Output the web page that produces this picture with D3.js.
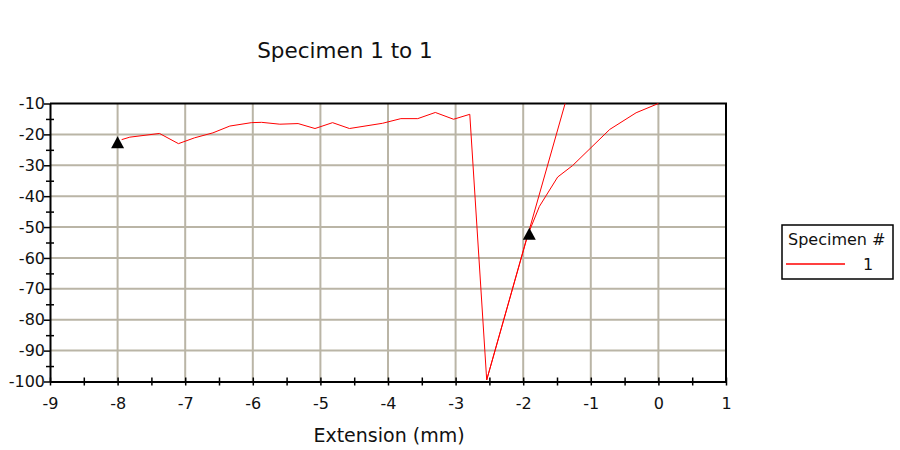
<!DOCTYPE html>
<html>
<head>
<meta charset="utf-8">
<script src="https://cdn.jsdelivr.net/npm/d3@7"></script>
<style>
  body { margin: 0; background: #fff; }
  svg { font-family: "DejaVu Sans", Verdana, sans-serif; }
</style>
</head>
<body>
<svg width="900" height="450"></svg>
<script>
// data
let extension = [-7.94, -7.82, -7.38, -7.1, -6.86, -6.59, -6.34, -6.02, -5.87, -5.6, -5.33, -5.08, -4.82, -4.57, -4.08, -3.81, -3.56, -3.3, -3.03, -2.79, -2.54, -1.94, -1.76, -1.49, -1.27, -0.72, -0.33, 0];
let load = [-21.7, -20.9, -19.7, -23, -21.1, -19.5, -17.3, -16.2, -16.1, -16.7, -16.5, -18.1, -16.2, -18.1, -16.4, -14.9, -14.9, -12.9, -15.1, -13.5, -99.5, -53, -43.3, -33.8, -30.1, -18.4, -13, -10];
let modulusX = [-2.54, -1.38];
let modulusY = [-99.5, -10];
let markerX = [-8, -1.91];
let markerY = [-22.7, -52.3];
let xTicks = [-9, -8, -7, -6, -5, -4, -3, -2, -1, 0, 1];
let yTicks = [-10, -20, -30, -40, -50, -60, -70, -80, -90, -100];

let svg = d3.select('svg');
let pLeft = 50, pRight = 726, pTop = 103.5, pBottom = 381.5;

let xScale = d3.scaleLinear().domain([-9, 1]).range([pLeft, pRight]);
let yScale = d3.scaleLinear().domain([-100, -10]).range([pBottom, pTop]);

// gridlines
svg.append('g').selectAll('line')
  .data(xTicks.slice(1, -1))
  .enter().append('line')
  .attr('x1', d => xScale(d)).attr('x2', d => xScale(d))
  .attr('y1', pTop).attr('y2', pBottom)
  .attr('stroke', '#bab5a6').attr('stroke-width', 2);
svg.append('g').selectAll('line')
  .data(yTicks.slice(1, -1))
  .enter().append('line')
  .attr('x1', pLeft).attr('x2', pRight)
  .attr('y1', d => yScale(d)).attr('y2', d => yScale(d))
  .attr('stroke', '#bab5a6').attr('stroke-width', 2);

// frame top + right
svg.append('path')
  .attr('d', `M${pLeft},${pTop}H${pRight}V${pBottom}`)
  .attr('fill', 'none').attr('stroke', '#000').attr('stroke-width', 2);

// x axis
let minorX = d3.range(-9, 1.01, 0.5);
let xAxis = d3.axisBottom(xScale).tickValues(minorX).tickSize(4).tickSizeOuter(0)
  .tickFormat(d => Number.isInteger(d) ? d : '');
let gx = svg.append('g').attr('transform', `translate(0,${pBottom})`).call(xAxis);
gx.select('.domain').attr('stroke-width', 2);
gx.selectAll('.tick line').attr('y1', -4).attr('stroke-width', 1.5);
gx.selectAll('.tick text').attr('font-size', 16).attr('fill', '#111').attr('dy', '1.3em')
  .attr('font-family', '"DejaVu Sans", Verdana, sans-serif');

// y axis
let minorY = d3.range(-100, -9.9, 5);
let yAxis = d3.axisLeft(yScale).tickValues(minorY).tickSize(4).tickSizeOuter(0).tickPadding(1)
  .tickFormat(d => d % 10 === 0 ? d : '');
let gy = svg.append('g').attr('transform', `translate(${pLeft},0)`).call(yAxis);
gy.select('.domain').attr('stroke-width', 2);
gy.selectAll('.tick line').attr('x2', d => d % 10 === 0 ? -6 : -4).attr('x1', d => d % 10 === 0 ? 0 : 4).attr('stroke-width', 1.5);
gy.selectAll('.tick text').attr('font-size', 16).attr('fill', '#111')
  .attr('font-family', '"DejaVu Sans", Verdana, sans-serif');

// data curve
let line = d3.line().x(d => xScale(d[0])).y(d => yScale(d[1]));
svg.append('path')
  .datum(extension.map((x, i) => [x, load[i]]))
  .attr('d', line)
  .attr('fill', 'none').attr('stroke', '#ff0000').attr('stroke-width', 1);
svg.append('path')
  .datum(modulusX.map((x, i) => [x, modulusY[i]]))
  .attr('d', line)
  .attr('fill', 'none').attr('stroke', '#ff0000').attr('stroke-width', 1);

// markers
svg.selectAll('.marker')
  .data(markerX.map((x, i) => [x, markerY[i]]))
  .enter().append('path')
  .attr('class', 'marker')
  .attr('transform', d => `translate(${xScale(d[0])},${yScale(d[1])})`)
  .attr('d', 'M0,-6.5L6.5,5.5L-6.5,5.5Z')
  .attr('fill', '#000');

// title + axis label
svg.append('text').attr('x', 345).attr('y', 58).attr('text-anchor', 'middle')
  .attr('font-size', 21.5).attr('fill', '#111').text('Specimen 1 to 1');
svg.append('text').attr('x', 389).attr('y', 442).attr('text-anchor', 'middle')
  .attr('font-size', 19).attr('fill', '#111').text('Extension (mm)');

// legend
let lg = svg.append('g').attr('transform', 'translate(782,225)');
lg.append('rect').attr('width', 111).attr('height', 54)
  .attr('fill', '#fff').attr('stroke', '#000').attr('stroke-width', 1.5);
lg.append('text').attr('x', 6).attr('y', 20).attr('font-size', 16).attr('fill', '#111').text('Specimen #');
lg.append('line').attr('x1', 4).attr('x2', 63).attr('y1', 39).attr('y2', 39)
  .attr('stroke', '#ff0000').attr('stroke-width', 1.5);
lg.append('text').attr('x', 86).attr('y', 45).attr('text-anchor', 'middle')
  .attr('font-size', 16).attr('fill', '#111').text('1');
</script>
</body>
</html>
